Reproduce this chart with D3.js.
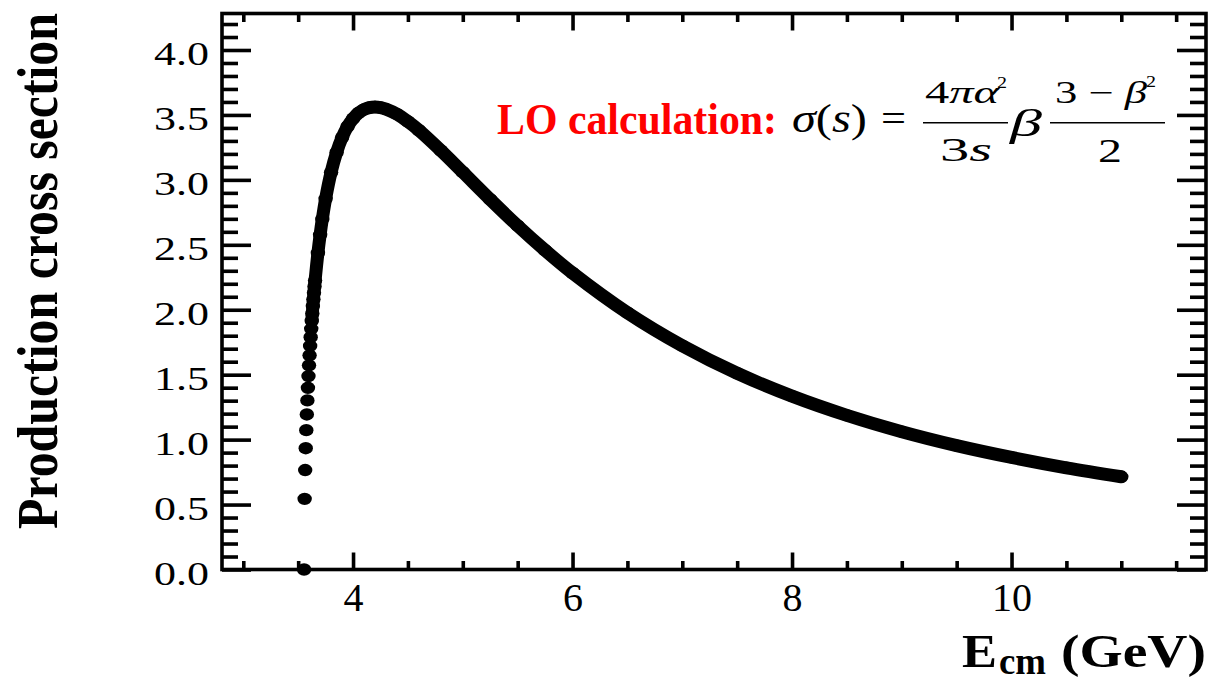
<!DOCTYPE html>
<html><head><meta charset="utf-8">
<script src="https://cdn.jsdelivr.net/npm/d3@7"></script>
<style>body{margin:0;background:#fff} svg{display:block}</style>
</head><body>
<svg id="chart" width="1216" height="680"></svg>
<script>
// ---- data ----
const energy = [3.554, 3.559, 3.564, 3.569, 3.574, 3.579, 3.584, 3.589, 3.594, 3.599,
  3.604, 3.609, 3.614, 3.619, 3.624, 3.629, 3.634, 3.639, 3.644, 3.649, 3.654,
  3.68, 3.70, 3.72, 3.75, 3.80, 3.85, 3.90, 3.95, 4.00, 4.05, 4.10, 4.15, 4.20, 4.25, 4.30,
  4.40, 4.50, 4.60, 4.80, 5.00, 5.25, 5.50, 5.75, 6.00, 6.50, 7.00, 7.50, 8.00, 8.50,
  9.00, 9.50, 10.00, 10.50, 11.00];
const xsec = [0.000, 0.544, 0.766, 0.934, 1.073, 1.194, 1.302, 1.399, 1.489, 1.572,
  1.649, 1.721, 1.789, 1.853, 1.914, 1.972, 2.028, 2.080, 2.131, 2.179, 2.225,
  2.438, 2.577, 2.698, 2.854, 3.058, 3.211, 3.326, 3.411, 3.472, 3.515, 3.542, 3.557, 3.561, 3.557, 3.545,
  3.506, 3.449, 3.382, 3.226, 3.059, 2.849, 2.647, 2.458, 2.283, 1.977, 1.723, 1.511, 1.335, 1.187,
  1.061, 0.954, 0.863, 0.783, 0.714];
const xMajorTicks = [4, 6, 8, 10];
const xMinorTicks = [3.0, 3.5, 4.5, 5.0, 5.5, 6.5, 7.0, 7.5, 8.5, 9.0, 9.5, 10.5, 11.0, 11.5];
const yMajorTicks = [0.0, 0.5, 1.0, 1.5, 2.0, 2.5, 3.0, 3.5, 4.0];
const yTickLabels = ["0.0", "0.5", "1.0", "1.5", "2.0", "2.5", "3.0", "3.5", "4.0"];
const yMinorTicks = d3.range(0, 43).map(i => i / 10).filter(v => Math.abs(v * 2 - Math.round(v * 2)) > 1e-6);
const lineStartIndex = 14; // dots before this are drawn only as separate markers

// ---- layout ----
const svg = d3.select("#chart");
const L = 222, R = 1206, T = 13.5, B = 569.5;
const x = d3.scaleLinear().domain([2.806, 11.772]).range([L, R]);
const y = d3.scaleLinear().domain([0, 4.281]).range([B, T]);
const AX = 3.6;
const FONT = "'Liberation Serif', 'Times New Roman', serif";

// curve as thick line of merged markers
const pts = energy.map((e, i) => ({e, s: xsec[i], i}));
const line = d3.line().x(d => x(d.e)).y(d => y(d.s)).curve(d3.curveCatmullRom.alpha(0.5));
svg.append("path").datum(pts.filter(d => d.i >= lineStartIndex))
  .attr("d", line).attr("fill", "none").attr("stroke", "#000")
  .attr("stroke-width", 13).attr("stroke-linecap", "round").attr("stroke-linejoin", "round");
svg.append("g").selectAll("ellipse").data(pts).join("ellipse")
  .attr("cx", d => x(d.e)).attr("cy", d => y(d.s)).attr("rx", 7.2).attr("ry", 6.2).attr("fill", "#000");

// axes (ROOT-like inward ticks on all four sides)
function styleAxis(g) {
  g.select(".domain").remove();
  g.selectAll("line").attr("stroke", "#000").attr("stroke-width", AX);
}
svg.append("g").attr("transform", `translate(0,${B})`)
  .call(d3.axisBottom(x).tickValues(xMinorTicks).tickSize(-8.5).tickFormat("")).call(styleAxis);
const xMaj = svg.append("g").attr("transform", `translate(0,${B})`)
  .call(d3.axisBottom(x).tickValues(xMajorTicks).tickSize(-17).tickFormat(d3.format("d"))).call(styleAxis);
xMaj.selectAll("text").attr("y", 41.5).attr("dy", null).attr("fill", "#000")
  .style("font-family", FONT).style("font-size", "40px");
svg.append("g").attr("transform", `translate(0,${T})`)
  .call(d3.axisTop(x).tickValues(xMinorTicks).tickSize(-8.5).tickFormat("")).call(styleAxis);
svg.append("g").attr("transform", `translate(0,${T})`)
  .call(d3.axisTop(x).tickValues(xMajorTicks).tickSize(-17).tickFormat("")).call(styleAxis);

svg.append("g").attr("transform", `translate(${L},0)`)
  .call(d3.axisLeft(y).tickValues(yMinorTicks).tickSize(-16).tickFormat("")).call(styleAxis);
const yMaj = svg.append("g").attr("transform", `translate(${L},0)`)
  .call(d3.axisLeft(y).tickValues(yMajorTicks).tickSize(-29).tickFormat((d, i) => yTickLabels[i])).call(styleAxis);
yMaj.selectAll("text").attr("x", -13).attr("dy", null).attr("y", 14.5).attr("fill", "#000")
  .attr("text-anchor", "end").attr("textLength", 55).attr("lengthAdjust", "spacingAndGlyphs")
  .style("font-family", FONT).style("font-size", "34px");
svg.append("g").attr("transform", `translate(${R},0)`)
  .call(d3.axisRight(y).tickValues(yMinorTicks).tickSize(-16).tickFormat("")).call(styleAxis);
svg.append("g").attr("transform", `translate(${R},0)`)
  .call(d3.axisRight(y).tickValues(yMajorTicks).tickSize(-29).tickFormat("")).call(styleAxis);

// frame
svg.append("rect").attr("x", L).attr("y", T).attr("width", R - L).attr("height", B - T)
  .attr("fill", "none").attr("stroke", "#000").attr("stroke-width", AX);

// titles
function txt(s, xx, yy, size, o = {}) {
  const t = svg.append("text").attr("x", xx).attr("y", yy).text(s)
    .style("font-family", o.family || FONT).style("font-size", size + "px")
    .style("font-weight", o.bold ? "bold" : "normal").style("font-style", o.italic ? "italic" : "normal")
    .attr("fill", o.fill || "#000").attr("text-anchor", o.anchor || "start");
  if (o.len) t.attr("textLength", o.len).attr("lengthAdjust", "spacingAndGlyphs");
  if (o.transform) t.attr("transform", o.transform);
  return t;
}
function mixed(parts, xx, yy, size, len) {
  const t = svg.append("text").attr("x", xx).attr("y", yy)
    .style("font-family", FONT).style("font-size", size + "px").attr("fill", "#000");
  parts.forEach(([s, it]) => t.append("tspan").style("font-style", it ? "italic" : "normal").text(s));
  if (len) t.attr("textLength", len).attr("lengthAdjust", "spacingAndGlyphs");
  return t;
}
// y title
txt("Production cross section", 0, 0, 57, {bold: true, len: 516, transform: "translate(57,529) rotate(-90)"});
// x title
txt("E", 962, 667, 46, {bold: true, len: 35});
txt("cm", 999, 674, 38, {bold: true, len: 47});
txt("(GeV)", 1061, 667, 46, {bold: true, len: 145});

// legend text
txt("LO calculation:", 497, 134, 44, {bold: true, fill: "#ff0000", len: 280});
// formula sigma(s) = 4 pi alpha^2 / 3s  beta (3 - beta^2)/2
mixed([["σ", true], ["(", false], ["s", true], [")", false]], 792, 132, 40, 75);
txt("=", 881, 131, 38, {len: 25});
mixed([["4", false], ["πα", true]], 925, 103, 31, 74);
txt("2", 997, 88, 16, {len: 10});
svg.append("line").attr("x1", 923).attr("x2", 1008).attr("y1", 122.7).attr("y2", 122.7).attr("stroke", "#000").attr("stroke-width", 1.6);
mixed([["3", false], ["s", true]], 940, 161, 33, 52);
txt("β", 1010, 136, 38, {italic: true, len: 32});
mixed([["3 − ", false], ["β", true]], 1055, 103, 31, 92);
txt("2", 1146, 87, 16, {len: 10});
svg.append("line").attr("x1", 1050).attr("x2", 1165).attr("y1", 122.7).attr("y2", 122.7).attr("stroke", "#000").attr("stroke-width", 1.6);
txt("2", 1098, 162, 33, {len: 24});
</script>
</body></html>
